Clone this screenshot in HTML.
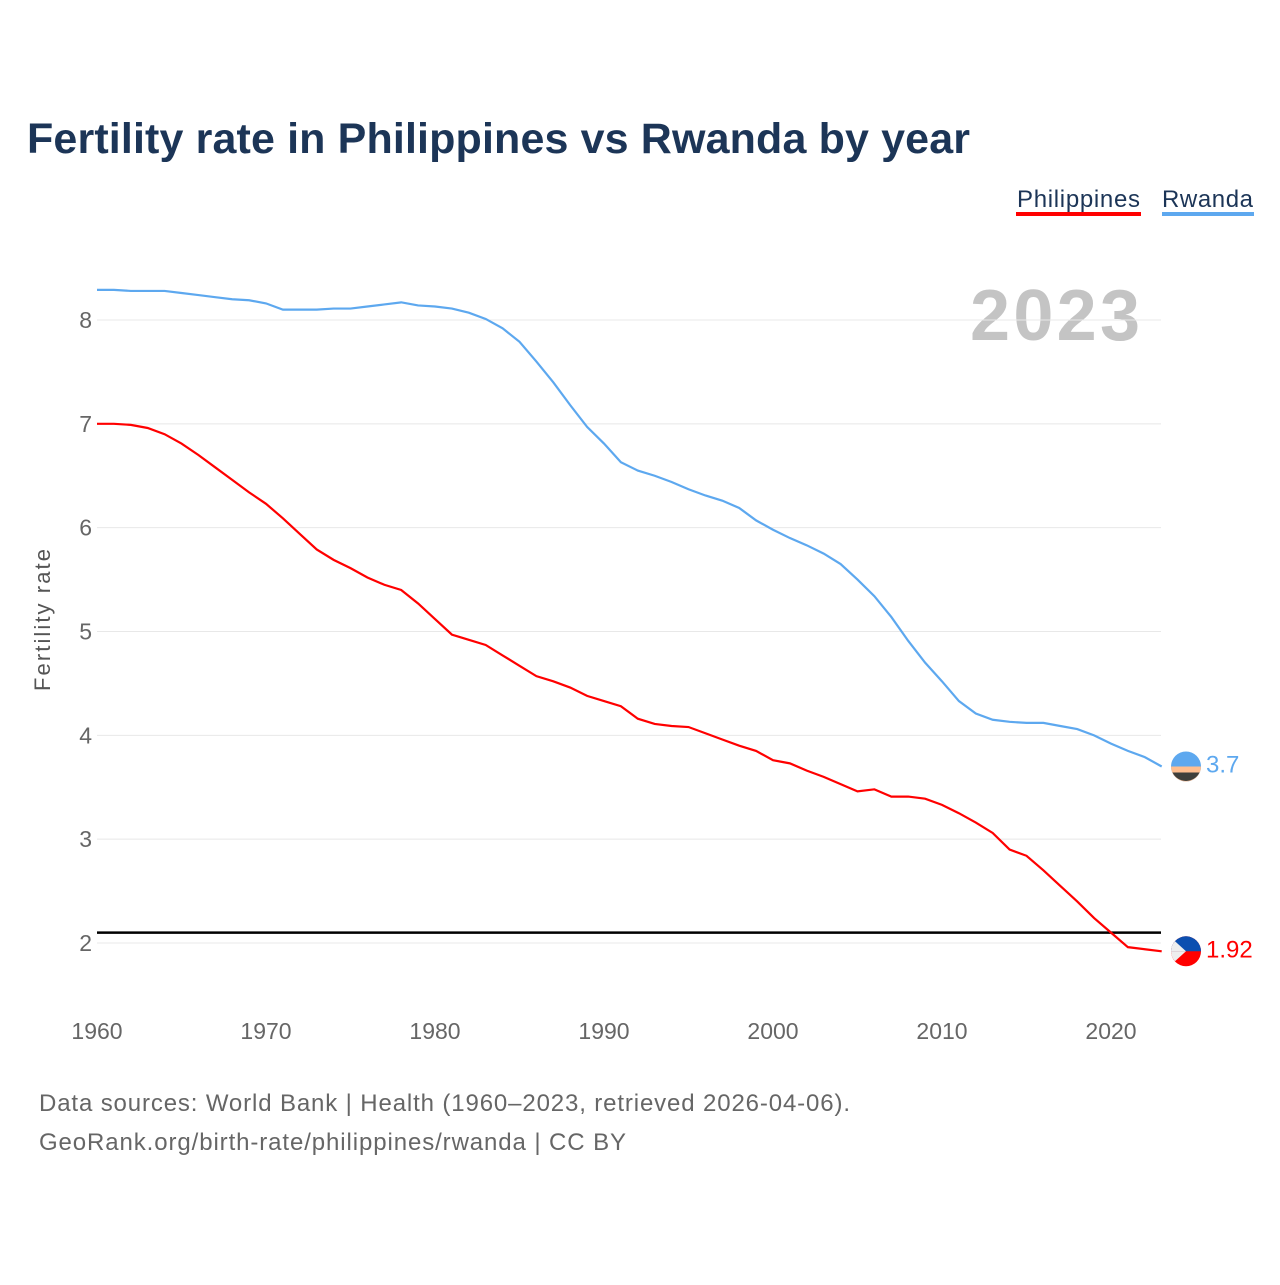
<!DOCTYPE html>
<html><head><meta charset="utf-8"><style>
body{margin:0;background:#fff;font-family:"Liberation Sans",sans-serif}
svg text{font-family:"Liberation Sans",sans-serif}
</style></head><body>
<svg width="1280" height="1280" viewBox="0 0 1280 1280">
<rect width="1280" height="1280" fill="#fff"/>
<text x="27" y="153" font-size="43" font-weight="bold" fill="#1c3557" textLength="943">Fertility rate in Philippines vs Rwanda by year</text>
<g>
<text x="1017" y="207" font-size="24" fill="#1c3557" textLength="123">Philippines</text>
<rect x="1016" y="212" width="125" height="4" fill="#ff0000"/>
<text x="1162" y="207" font-size="24" fill="#1c3557" textLength="91">Rwanda</text>
<rect x="1162" y="212" width="92" height="4" fill="#5da8ef"/>
</g>
<text x="1140" y="340" font-size="72" font-weight="bold" fill="#c4c4c4" text-anchor="end" textLength="170">2023</text>
<text transform="translate(50,620) rotate(-90)" font-size="22" fill="#555" text-anchor="middle" textLength="142">Fertility rate</text>
<g id="grid"></g><g id="yt"></g><g id="xt"></g><g id="lines"></g>
<text x="39" y="1111" font-size="24" fill="#666" textLength="811">Data sources: World Bank | Health (1960–2023, retrieved 2026-04-06).</text>
<text x="39" y="1150" font-size="24" fill="#666" textLength="587">GeoRank.org/birth-rate/philippines/rwanda | CC BY</text>
</svg>
<script>
const years=[];for(let y=1960;y<=2023;y++)years.push(y);
const philippines=[7.0,7.0,6.99,6.96,6.9,6.81,6.7,6.58,6.46,6.34,6.23,6.09,5.94,5.79,5.69,5.61,5.52,5.45,5.40,5.27,5.12,4.97,4.92,4.87,4.77,4.67,4.57,4.52,4.46,4.38,4.33,4.28,4.16,4.11,4.09,4.08,4.02,3.96,3.90,3.85,3.76,3.73,3.66,3.60,3.53,3.46,3.48,3.41,3.41,3.39,3.33,3.25,3.16,3.06,2.90,2.84,2.70,2.55,2.40,2.24,2.10,1.96,1.94,1.92];
const rwanda=[8.29,8.29,8.28,8.28,8.28,8.26,8.24,8.22,8.20,8.19,8.16,8.10,8.10,8.10,8.11,8.11,8.13,8.15,8.17,8.14,8.13,8.11,8.07,8.01,7.92,7.79,7.60,7.40,7.18,6.97,6.81,6.63,6.55,6.50,6.44,6.37,6.31,6.26,6.19,6.07,5.98,5.90,5.83,5.75,5.65,5.50,5.34,5.14,4.91,4.70,4.52,4.33,4.21,4.15,4.13,4.12,4.12,4.09,4.06,4.00,3.92,3.85,3.79,3.70];
const yTicks=[2,3,4,5,6,7,8];
const xTicks=[1960,1970,1980,1990,2000,2010,2020];
const replacement=[2.1];
const NS="http://www.w3.org/2000/svg";
const X=y=>97+(y-1960)*1014/60;
const Y=v=>943-(v-2)*623/6;
function mk(t,a,p){const e=document.createElementNS(NS,t);for(const k in a)e.setAttribute(k,a[k]);document.getElementById(p).appendChild(e);return e;}
yTicks.forEach(v=>{
 const l=mk('line',{x1:97,x2:1161,y1:Y(v),y2:Y(v),stroke:'#e8e8e8','stroke-width':1},'grid');
 
 
 const t=mk('text',{x:92,y:Y(v)+8,'font-size':23,fill:'#666','text-anchor':'end'},'yt');t.textContent=v;
 
 
});
xTicks.forEach(v=>{
 const t=mk('text',{x:X(v),y:1039,'font-size':23,fill:'#666','text-anchor':'middle'},'xt');t.textContent=v;
 
 
});
replacement.forEach(v=>{
 const l=mk('line',{x1:97,x2:1161,y1:Y(v),y2:Y(v),stroke:'#000','stroke-width':2.5},'lines');
 
 
});
function series(vals,col,name){
 const p=mk('polyline',{points:vals.map((v,i)=>X(years[i])+','+Y(v)).join(' '),fill:'none',stroke:col,'stroke-width':2.2},'lines');
 
 
 const last=vals[vals.length-1],cy=Y(last);
 const c=mk('circle',{cx:1186,cy:cy,r:15,fill:col},'lines');
 
 
 const t=mk('text',{x:1206,y:cy+6,'font-size':24,fill:col},'lines');t.textContent=last;
 
 
 return cy;
}
const ry=series(rwanda,'#5da8ef','rwanda');
mk('path',{d:`M1171 ${ry} H1201 A15 15 0 0 1 1171 ${ry}Z`,fill:'#ffbe8f'},'lines');
mk('path',{d:`M1172.5 ${ry+6} H1199.5 A15 15 0 0 1 1172.5 ${ry+6}Z`,fill:'#3f3f3b'},'lines');
const py=series(philippines,'#ff0000','philippines');
mk('path',{d:`M1171 ${py} A15 15 0 0 1 1201 ${py}Z`,fill:'#0c4fb0'},'lines');
mk('path',{d:`M1171 ${py} L1186 ${py} L1175 ${py+10} A15 15 0 0 1 1171 ${py}Z`,fill:'#eee'},'lines');
mk('path',{d:`M1171 ${py} L1186 ${py} L1175 ${py-10} A15 15 0 0 0 1171 ${py}Z`,fill:'#eee'},'lines');
</script>
</body></html>
